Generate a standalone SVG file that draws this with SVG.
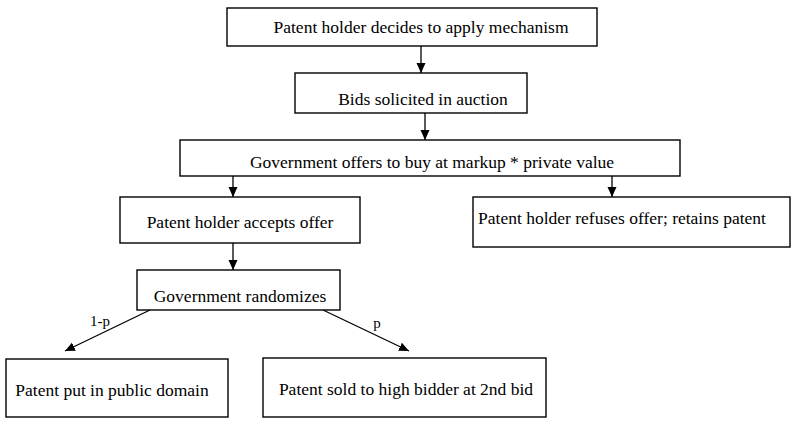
<svg xmlns="http://www.w3.org/2000/svg" width="793" height="421" viewBox="0 0 793 421">
<style>
.box{fill:#fff;stroke:#000;stroke-width:1.4}
.t{font-family:"Liberation Serif","Times New Roman",serif;font-size:17.5px;fill:#000;text-anchor:middle}
.l{font-family:"Liberation Serif","Times New Roman",serif;font-size:15px;fill:#000;text-anchor:middle}
.c{stroke:#000;stroke-width:1.3;fill:none;marker-end:url(#ah)}
</style>
<defs>
<marker id="ah" viewBox="0 0 10 10" refX="10" refY="5" markerWidth="10" markerHeight="10" markerUnits="userSpaceOnUse" orient="auto">
<path d="M0,0.5 L10,5 L0,9.5 Z" fill="#000"/>
</marker>
</defs>
<rect width="793" height="421" fill="#fff"/>
<g id="connectors">
<line class="c" x1="421" y1="46" x2="421" y2="73"/>
<line class="c" x1="425" y1="113" x2="425" y2="140"/>
<line class="c" x1="233" y1="176" x2="233" y2="197"/>
<line class="c" x1="612" y1="176" x2="612" y2="197"/>
<line class="c" x1="233" y1="243" x2="233" y2="270"/>
<line class="c" x1="150" y1="310" x2="65" y2="351"/>
<line class="c" x1="323" y1="310" x2="409" y2="351"/>
<text class="l" x="100" y="326">1-p</text>
<text class="l" x="377" y="328">p</text>
</g>
<g id="n1"><rect class="box" x="227" y="8" width="370" height="38"/><text class="t" x="421" y="33">Patent holder decides to apply mechanism</text></g>
<g id="n2"><rect class="box" x="295" y="73" width="232" height="40"/><text class="t" x="423" y="105">Bids solicited in auction</text></g>
<g id="n3"><rect class="box" x="180" y="140" width="500" height="36"/><text class="t" x="432" y="168">Government offers to buy at markup * private value</text></g>
<g id="n4"><rect class="box" x="120" y="197" width="240" height="46"/><text class="t" x="240" y="228">Patent holder accepts offer</text></g>
<g id="n5"><rect class="box" x="473" y="197" width="317" height="50"/><text class="t" x="622" y="224">Patent holder refuses offer; retains patent</text></g>
<g id="n6"><rect class="box" x="137" y="270" width="203" height="40"/><text class="t" x="240" y="302">Government randomizes</text></g>
<g id="n7"><rect class="box" x="6" y="359" width="222" height="58"/><text class="t" x="112" y="396">Patent put in public domain</text></g>
<g id="n8"><rect class="box" x="263" y="358" width="283" height="59"/><text class="t" x="406" y="395">Patent sold to high bidder at 2nd bid</text></g>
</svg>
